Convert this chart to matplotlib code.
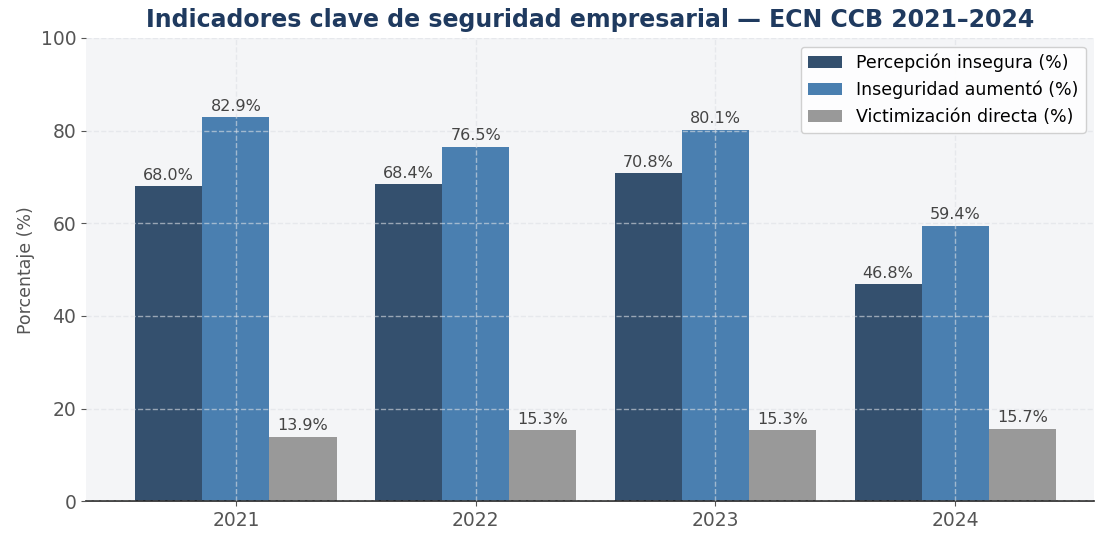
import matplotlib
matplotlib.use("Agg")
import matplotlib.pyplot as plt
import numpy as np

plt.rcParams["font.family"] = ["DejaVu Sans"]

years = ["2021", "2022", "2023", "2024"]
percepcion = [68.0, 68.4, 70.8, 46.8]
aumento = [82.9, 76.5, 80.1, 59.4]
victimizacion = [13.9, 15.3, 15.3, 15.7]

series = [
    ("Percepción insegura (%)", percepcion, "#34506e"),
    ("Inseguridad aumentó (%)", aumento, "#4a7fb0"),
    ("Victimización directa (%)", victimizacion, "#999999"),
]

fig = plt.figure(figsize=(10.96, 5.35), dpi=100)
ax = fig.add_axes([0.0785, 0.063, 0.92, 0.866])
ax.set_facecolor("#f4f5f7")

x = np.arange(len(years))
w = 0.28
for i, (name, vals, col) in enumerate(series):
    bars = ax.bar(x + (i - 1) * w, vals, w, label=name, color=col, zorder=2)
    for b, v in zip(bars, vals):
        ax.text(b.get_x() + b.get_width() / 2, v + 0.8, f"{v:.1f}%",
                ha="center", va="bottom", fontsize=11.5, color="#444444", zorder=3)

ax.set_xlim(-0.625, 3.58)
ax.set_ylim(0, 100)
ax.set_xticks(x)
ax.set_xticklabels(years)
ax.set_yticks([0, 20, 40, 60, 80, 100])
ax.tick_params(axis="both", labelsize=13.5, colors="#555555")
ax.set_ylabel("Porcentaje (%)", fontsize=12.5, color="#555555")
ax.set_axisbelow(False)
ax.grid(True, linestyle="--", color="#dde0e5", linewidth=1, alpha=0.6)
for s in ["top", "right", "left"]:
    ax.spines[s].set_visible(False)
ax.spines["bottom"].set_color("#222222")
ax.spines["bottom"].set_linewidth(1.2)

ax.set_title("Indicadores clave de seguridad empresarial — ECN CCB 2021–2024",
             fontsize=17, fontweight="bold", color="#1f3a5f", pad=8)
ax.legend(loc="upper right", fontsize=12.5, framealpha=0.9, edgecolor="#cccccc")

fig.savefig("out.png", dpi=100)
